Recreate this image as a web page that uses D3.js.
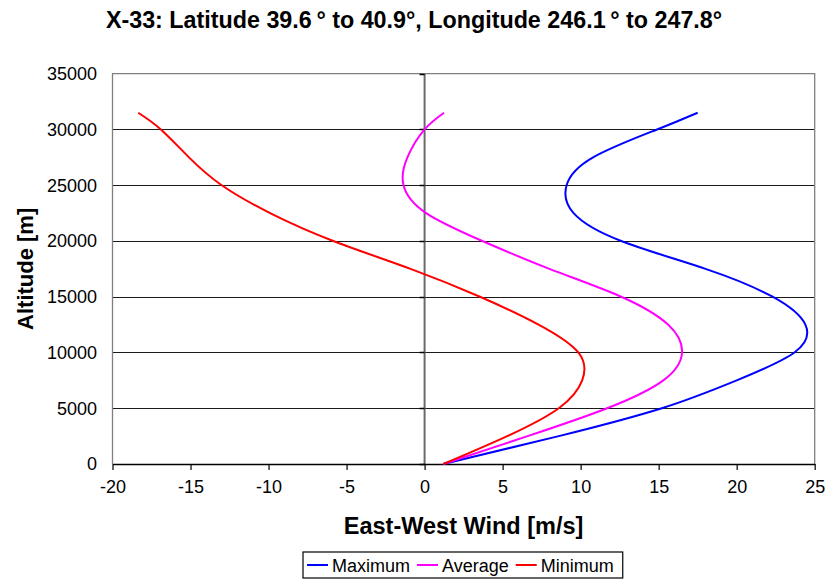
<!DOCTYPE html>
<html>
<head>
<meta charset="utf-8">
<script src="https://cdn.jsdelivr.net/npm/d3@7"></script>
<style>
  html, body { margin: 0; padding: 0; background: #fff; }
  svg { display: block; font-family: "Liberation Sans", Arial, Helvetica, sans-serif; }
</style>
</head>
<body>
<svg id="chart" width="829" height="580"></svg>
<script>
// Wind profile by altitude (m) for the three series
const altitude = [0, 2500, 5000, 7500, 10000, 12500, 15000, 17500, 20000, 22500, 25000, 27500, 30000, 31500];
const maximum  = [1.2, 8.6, 15.2, 20.0, 23.7, 24.4, 22.3, 18.0, 12.6, 9.55, 9.1, 10.8, 14.9, 17.5];
const average  = [1.2, 6.6, 11.7, 15.3, 16.5, 15.6, 12.6, 8.0, 3.7, 0.1, -1.35, -1.1, 0.0, 1.25];
const minimum  = [1.2, 5.3, 8.6, 10.1, 9.85, 7.3, 3.55, -0.9, -5.85, -9.9, -13.0, -15.1, -16.9, -18.35];

const xTicks = [-20, -15, -10, -5, 0, 5, 10, 15, 20, 25];
const yTicks = [0, 5000, 10000, 15000, 20000, 25000, 30000, 35000];

const seriesNames  = ["Maximum", "Average", "Minimum"];
const seriesColors = ["#0000ff", "#ff00ff", "#ff0000"];
const seriesValues = [maximum, average, minimum];

const titleText = "X-33: Latitude 39.6\u2009\u00b0 to 40.9\u00b0, Longitude 246.1\u2009\u00b0 to 247.8\u00b0";
const xTitle = "East-West Wind [m/s]";
const yTitle = "Altitude [m]";

const svg = d3.select("#chart");
const plot = { left: 112.5, right: 814.7, top: 73.7, bottom: 464 };

const x = d3.scaleLinear().domain([-20, 25]).range([plot.left, plot.right]);
const y = d3.scaleLinear().domain([0, 35000]).range([plot.bottom, plot.top]);

// horizontal gridlines
svg.append("g")
  .selectAll("line")
  .data(yTicks.filter(t => t > 0 && t < 35000))
  .join("line")
  .attr("x1", plot.left).attr("x2", plot.right)
  .attr("y1", d => Math.round(y(d)) + 0.5).attr("y2", d => Math.round(y(d)) + 0.5)
  .attr("stroke", "#1a1a1a").attr("stroke-width", 1);

// plot frame (top, left, right)
svg.append("path")
  .attr("d", `M${plot.left},${plot.bottom}V${plot.top}H${plot.right}V${plot.bottom}`)
  .attr("fill", "none").attr("stroke", "#808080").attr("stroke-width", 1.3);

// vertical axis crossing at zero wind
const yAxisG = svg.append("g").attr("transform", `translate(${x(0)},0)`);
yAxisG.append("line")
  .attr("y1", plot.top).attr("y2", plot.bottom)
  .attr("stroke", "#6a6a6a").attr("stroke-width", 2);
yAxisG.selectAll("line.tick")
  .data(yTicks)
  .join("line").attr("class", "tick")
  .attr("x1", -5).attr("x2", 0)
  .attr("y1", d => Math.round(y(d)) + 0.5).attr("y2", d => Math.round(y(d)) + 0.5)
  .attr("stroke", "#000").attr("stroke-width", 1.5);

// y tick labels at the left edge of the plot
svg.append("g")
  .selectAll("text")
  .data(yTicks)
  .join("text")
  .attr("x", 97).attr("y", d => y(d))
  .attr("dy", "0.35em")
  .attr("text-anchor", "end")
  .attr("font-size", 18)
  .attr("fill", "#000")
  .text(d => String(d));

// x axis along the bottom
const xAxis = d3.axisBottom(x)
  .tickValues(xTicks)
  .tickFormat(d => String(d))
  .tickSize(6).tickSizeOuter(0).tickPadding(10);
const xAxisG = svg.append("g")
  .attr("transform", `translate(0,${plot.bottom})`)
  .call(xAxis);
xAxisG.select(".domain").attr("stroke", "#000").attr("stroke-width", 1.5);
xAxisG.selectAll(".tick line").attr("stroke", "#000").attr("stroke-width", 1.2);
xAxisG.selectAll(".tick text")
  .attr("font-size", 18)
  .attr("font-family", "Liberation Sans, Arial, sans-serif")
  .attr("fill", "#000");

// series curves
const line = d3.line()
  .x(d => x(d[0]))
  .y(d => y(d[1]))
  .curve(d3.curveNatural);

seriesValues.forEach((vals, i) => {
  svg.append("path")
    .datum(vals.map((v, k) => [v, altitude[k]]))
    .attr("d", line)
    .attr("fill", "none")
    .attr("stroke", seriesColors[i])
    .attr("stroke-width", 2);
});

// titles
svg.append("text")
  .attr("x", 414).attr("y", 28)
  .attr("text-anchor", "middle")
  .attr("font-size", 23.3).attr("font-weight", "bold")
  .text(titleText);

svg.append("text")
  .attr("x", (plot.left + plot.right) / 2).attr("y", 534)
  .attr("text-anchor", "middle")
  .attr("font-size", 23.5).attr("font-weight", "bold")
  .text(xTitle);

svg.append("text")
  .attr("transform", `translate(33,${(plot.top + plot.bottom) / 2}) rotate(-90)`)
  .attr("text-anchor", "middle")
  .attr("font-size", 22).attr("font-weight", "bold")
  .text(yTitle);

// legend
const legend = svg.append("g");
const legendBox = legend.append("rect")
  .attr("fill", "#fff").attr("stroke", "#000").attr("stroke-width", 1.2);
let cursor = 307;
const ly = 565;
seriesNames.forEach((name, i) => {
  legend.append("line")
    .attr("x1", cursor).attr("x2", cursor + 21)
    .attr("y1", ly).attr("y2", ly)
    .attr("stroke", seriesColors[i]).attr("stroke-width", 2);
  const t = legend.append("text")
    .attr("x", cursor + 25).attr("y", ly + 6.5)
    .attr("font-size", 18)
    .text(name);
  cursor += 25 + t.node().getComputedTextLength() + 7;
});
legendBox.attr("x", 303).attr("y", 552).attr("width", cursor + 2 - 303).attr("height", 26);
</script>
</body>
</html>
